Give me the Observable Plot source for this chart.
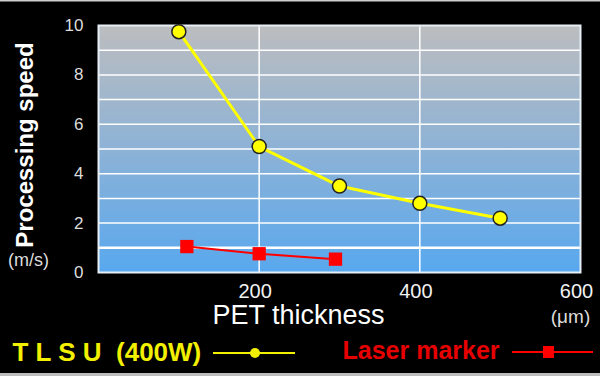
<!DOCTYPE html>
<html>
<head>
<meta charset="utf-8">
<script src="https://cdn.jsdelivr.net/npm/d3@7"></script>
<script src="https://cdn.jsdelivr.net/npm/@observablehq/plot@0.6"></script>
<style>
  html, body { margin: 0; padding: 0; background: #000; }
  #chart svg { display: block; }
</style>
</head>
<body>
<div id="chart"></div>
<script>
// Data
const tlsuX = [100, 200, 300, 400, 500];
const tlsuY = [9.75, 5.1, 3.5, 2.8, 2.2];
const laserX = [110, 200, 295];
const laserY = [1.05, 0.76, 0.54];
const yTicks = [0, 2, 4, 6, 8, 10];
const yGrid = [1, 2, 3, 4, 5, 6, 7, 8, 9];
const xTicks = [200, 400, 600];
const xGrid = [200, 400];

const tlsu = tlsuX.map((x, i) => ({x, y: tlsuY[i]}));
const laser = laserX.map((x, i) => ({x, y: laserY[i]}));

const font = "'Liberation Sans', Arial, Helvetica, sans-serif";

const plot = Plot.plot({
  width: 600,
  height: 376,
  marginLeft: 98,
  marginRight: 20,
  marginTop: 25,
  marginBottom: 104,
  style: {background: "#000", color: "#ddd", fontFamily: font},
  x: {domain: [0, 600]},
  y: {domain: [0, 10]},
  marks: [
    Plot.frame({fill: "url(#bgGrad)"}),
    Plot.ruleY(yGrid, {stroke: "#fff", strokeWidth: 1.5}),
    Plot.ruleY([1], {stroke: "#fff", strokeWidth: 2.5}),
    Plot.ruleX(xGrid, {stroke: "#fff", strokeWidth: 1.5}),
    Plot.frame({stroke: "#e6eef6", strokeWidth: 2}),
    Plot.axisY(yTicks, {tickSize: 0, tickPadding: 15, fontSize: 17, fill: "#ddd", label: null}),
    Plot.axisX(xTicks, {tickSize: 0, tickPadding: 11, fontSize: 20, fill: "#f2f2f2", label: null, dx: -4}),
    Plot.line(tlsu, {x: "x", y: "y", stroke: "#ffff00", strokeWidth: 3}),
    Plot.dot(tlsu, {x: "x", y: "y", r: 7, fill: "#ffff00", stroke: "#222", strokeWidth: 1.5}),
    Plot.line(laser, {x: "x", y: "y", stroke: "#ff0000", strokeWidth: 2}),
    Plot.dot(laser, {x: "x", y: "y", symbol: "square", r: 7.5, fill: "#ff0000", stroke: "none"}),
    Plot.text(["Processing speed"], {frameAnchor: "left", rotate: -90, dx: -73, dy: -4, fontSize: 24, fontWeight: "bold", fill: "#fff", textAnchor: "middle"}),
    Plot.text(["(m/s)"], {frameAnchor: "bottom-left", dx: -70, dy: -7, fontSize: 18, fill: "#ddd", textAnchor: "middle"}),
    Plot.text(["PET thickness"], {frameAnchor: "bottom", dx: -41, dy: 51, fontSize: 27, fill: "#fff"}),
    Plot.text(["(μm)"], {frameAnchor: "bottom-right", dx: -10, dy: 50, fontSize: 19, fill: "#ddd", textAnchor: "middle"}),
    Plot.text(["T L S U\u00a0\u00a0(400W)"], {frameAnchor: "bottom-left", dx: -86, dy: 88, textAnchor: "start", fontSize: 26, fontWeight: "bold", fill: "#f2f000"}),
    Plot.text(["Laser marker"], {frameAnchor: "bottom-left", dx: 244, dy: 86, textAnchor: "start", fontSize: 25, fontWeight: "bold", fill: "#e60000"})
  ]
});

const svg = d3.select(plot);
const defs = svg.insert("defs", ":first-child");
const grad = defs.append("linearGradient").attr("id", "bgGrad").attr("x1", 0).attr("y1", 0).attr("x2", 0).attr("y2", 1);
grad.append("stop").attr("offset", "0%").attr("stop-color", "#bcbdbf");
grad.append("stop").attr("offset", "50%").attr("stop-color", "#8db2d6");
grad.append("stop").attr("offset", "100%").attr("stop-color", "#58a8ee");

// Legend symbols and image borders
const g = svg.append("g");
g.append("rect").attr("x", 0).attr("y", 0).attr("width", 600).attr("height", 1.5).attr("fill", "#cfcfcf");
g.append("rect").attr("x", 0).attr("y", 373).attr("width", 600).attr("height", 3).attr("fill", "#bdbdbd");
g.append("line").attr("x1", 213).attr("x2", 295).attr("y1", 353).attr("y2", 353).attr("stroke", "#f2f000").attr("stroke-width", 2);
g.append("circle").attr("cx", 255).attr("cy", 353).attr("r", 5).attr("fill", "#f2f000");
g.append("line").attr("x1", 512).attr("x2", 593).attr("y1", 352).attr("y2", 352).attr("stroke", "#ff0000").attr("stroke-width", 2);
g.append("rect").attr("x", 543).attr("y", 346).attr("width", 11).attr("height", 12).attr("fill", "#ff0000");

document.getElementById("chart").appendChild(plot);
</script>
</body>
</html>
